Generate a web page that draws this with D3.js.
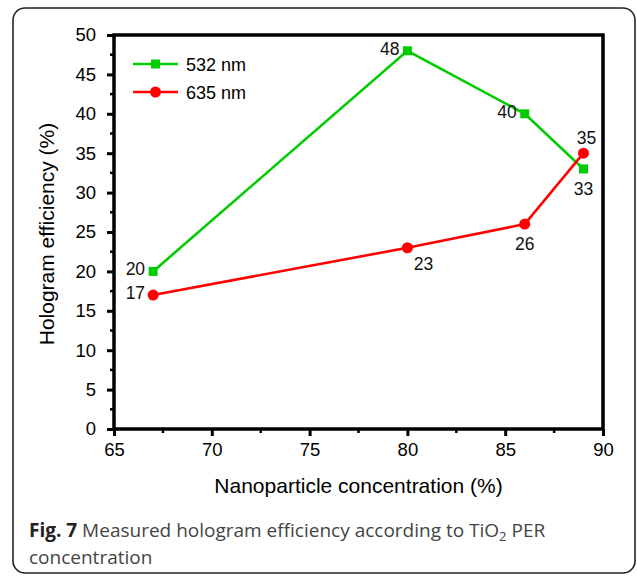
<!DOCTYPE html>
<html>
<head>
<meta charset="utf-8">
<script src="https://cdn.jsdelivr.net/npm/d3@7"></script>
<style>
  html, body { margin: 0; padding: 0; background: #fff; }
  svg { display: block; }
</style>
</head>
<body>
<div id="chart"></div>
<script>
// concentrations (%)
const xValues = [67, 80, 86, 89];
const green532 = [20, 48, 40, 33];
const red635 = [17, 23, 26, 35];
const seriesNames = ['532 nm', '635 nm'];
const xTicks = [65, 70, 75, 80, 85, 90];
const yTicks = [0, 5, 10, 15, 20, 25, 30, 35, 40, 45, 50];

// where each value label sits relative to its point
const placeGreen = ['left', 'left', 'left', 'below'];
const placeRed = ['left', 'belowRight', 'below', 'above'];

const W = 637, H = 576;
const margin = { top: 35, right: 34, bottom: 147, left: 114 };
const width = W - margin.left - margin.right;
const height = H - margin.top - margin.bottom;

const svg = d3.select('#chart').append('svg').attr('width', W).attr('height', H);

// outer figure frame
svg.append('rect').attr('x', 13).attr('y', 8).attr('width', 622).attr('height', 565)
  .attr('rx', 12).attr('fill', 'none').attr('stroke', '#222').attr('stroke-width', 1.6);

const g = svg.append('g').attr('transform', `translate(${margin.left},${margin.top})`);

const x = d3.scaleLinear().domain([65, 90]).range([0, width]);
const y = d3.scaleLinear().domain([0, 50]).range([height, 0]);

const font = 'Liberation Sans, Arial, Helvetica, sans-serif';

// minor ticks
const xMinor = d3.range(67.5, 90, 5);
const yMinor = d3.range(2.5, 50, 5);
g.selectAll('line.xm').data(xMinor).enter().append('line')
  .attr('x1', d => x(d)).attr('x2', d => x(d)).attr('y1', height).attr('y2', height + 4)
  .attr('stroke', '#000').attr('stroke-width', 2.5);
g.selectAll('line.ym').data(yMinor).enter().append('line')
  .attr('x1', 0).attr('x2', -4).attr('y1', d => y(d)).attr('y2', d => y(d))
  .attr('stroke', '#000').attr('stroke-width', 2.5);

const xAxis = g.append('g').attr('transform', `translate(0,${height})`)
  .call(d3.axisBottom(x).tickValues(xTicks).tickSize(7).tickSizeOuter(0).tickPadding(7));
const yAxis = g.append('g')
  .call(d3.axisLeft(y).tickValues(yTicks).tickSize(7).tickSizeOuter(0).tickPadding(11));
[xAxis, yAxis].forEach(a => {
  a.select('.domain').remove();
  a.selectAll('line').attr('stroke', '#000').attr('stroke-width', 3);
  a.selectAll('text').attr('font-family', font).attr('font-size', 18.5).attr('fill', '#000');
});

// plot frame
g.append('rect').attr('width', width).attr('height', height)
  .attr('fill', 'none').attr('stroke', '#000').attr('stroke-width', 3.5);

// axis titles
g.append('text').attr('x', width / 2).attr('y', height + 64).attr('text-anchor', 'middle')
  .attr('font-family', font).attr('font-size', 21).text('Nanoparticle concentration (%)');
g.append('text').attr('transform', `translate(${-60},${height / 2 + 2}) rotate(-90)`)
  .attr('text-anchor', 'middle').attr('font-family', font).attr('font-size', 21)
  .text('Hologram efficiency (%)');

const line = d3.line().x(d => x(d[0])).y(d => y(d[1]));
const gData = xValues.map((v, i) => [v, green532[i]]);
const rData = xValues.map((v, i) => [v, red635[i]]);
const GREEN = '#00cc00', RED = '#ff0000';

g.append('path').datum(gData).attr('d', line).attr('fill', 'none').attr('stroke', GREEN).attr('stroke-width', 2.6);
g.append('path').datum(rData).attr('d', line).attr('fill', 'none').attr('stroke', RED).attr('stroke-width', 2.6);

g.selectAll('rect.sq').data(gData).enter().append('rect')
  .attr('x', d => x(d[0]) - 4.5).attr('y', d => y(d[1]) - 4.5)
  .attr('width', 9).attr('height', 9).attr('fill', GREEN);
g.selectAll('circle.pt').data(rData).enter().append('circle')
  .attr('cx', d => x(d[0])).attr('cy', d => y(d[1])).attr('r', 5.5).attr('fill', RED);

function addLabels(data, place) {
  data.forEach((d, i) => {
    const px = x(d[0]), py = y(d[1]);
    let tx = px, ty = py, anchor = 'middle';
    const p = place[i];
    if (p === 'left') { tx = px - 8; ty = py + 4; anchor = 'end'; }
    else if (p === 'below') { ty = py + 26; }
    else if (p === 'above') { ty = py - 9; tx = px + 3; }
    else if (p === 'belowRight') { tx = px + 16; ty = py + 22; }
    g.append('text').attr('x', tx).attr('y', ty).attr('text-anchor', anchor)
      .attr('font-family', font).attr('font-size', 17.5).attr('fill', '#111').text(d[1]);
  });
}
addLabels(gData, placeGreen);
addLabels(rData, placeRed);

// legend
const legend = g.append('g').attr('transform', 'translate(19,29)');
seriesNames.forEach((name, i) => {
  const col = i === 0 ? GREEN : RED;
  const lg = legend.append('g').attr('transform', `translate(0,${i * 28})`);
  lg.append('line').attr('x1', 0).attr('x2', 45).attr('stroke', col).attr('stroke-width', 2.6);
  if (i === 0) lg.append('rect').attr('x', 18).attr('y', -4.5).attr('width', 9).attr('height', 9).attr('fill', col);
  else lg.append('circle').attr('cx', 22.5).attr('r', 5.5).attr('fill', col);
  lg.append('text').attr('x', 53).attr('y', 6.5).attr('font-family', font).attr('font-size', 18).text(name);
});

// caption
const capFont = 'Open Sans, Noto Sans, sans-serif';
const cap = svg.append('text').attr('x', 29).attr('y', 537)
  .attr('font-family', capFont).attr('font-size', 19).attr('fill', '#444');
cap.append('tspan').attr('font-weight', 'bold').attr('fill', '#222').text('Fig. 7');
cap.append('tspan').text(' Measured hologram efficiency according to TiO');
cap.append('tspan').attr('font-size', 13).attr('dy', 4).text('2');
cap.append('tspan').attr('dy', -4).text(' PER');
svg.append('text').attr('x', 29).attr('y', 564)
  .attr('font-family', capFont).attr('font-size', 19).attr('fill', '#444')
  .text('concentration');
</script>
</body>
</html>
